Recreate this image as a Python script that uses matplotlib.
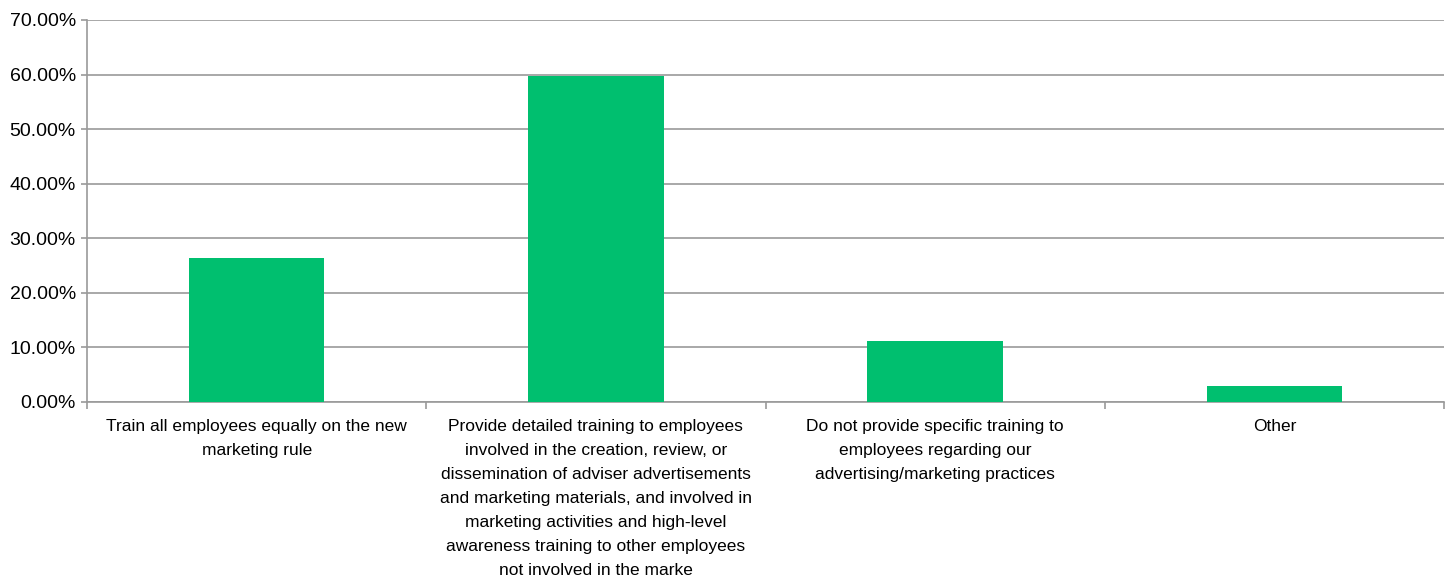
import matplotlib.pyplot as plt
from matplotlib.ticker import FuncFormatter

plt.rcParams['font.family'] = ['Liberation Sans', 'DejaVu Sans']

categories = [
    "Train all employees equally on the new\nmarketing rule",
    "Provide detailed training to employees\ninvolved in the creation, review, or\n"
    "dissemination of adviser advertisements\nand marketing materials, and involved in\n"
    "marketing activities and high-level\nawareness training to other employees\n"
    "not involved in the marke",
    "Do not provide specific training to\nemployees regarding our\nadvertising/marketing practices",
    "Other",
]
shares = [26.4, 59.7, 11.1, 2.9]
y_ticks = [0, 10, 20, 30, 40, 50, 60, 70]

W, H = 1448, 585
fig = plt.figure(figsize=(W / 100, H / 100), dpi=100)
ax = fig.add_axes([87 / W, 1 - 402 / H, (1444 - 87) / W, (402 - 20) / H])

grid_col = '#9a9a9a'
x = range(len(categories))
ax.bar(x, shares, width=0.4, color='#00bf6f', zorder=3)

ax.set_xlim(-0.5, len(categories) - 0.5)
ax.set_ylim(0, 70)
ax.set_yticks(y_ticks)
ax.yaxis.set_major_formatter(FuncFormatter(lambda v, p: f"{v:.2f}%"))
ax.yaxis.grid(True, color=grid_col, linewidth=1.2, zorder=0)

# category labels sit between boundary ticks
ax.set_xticks([i + 0.5 for i in range(-1, len(categories))])
ax.set_xticklabels([])
ax.set_xticks(list(x), minor=True)
ax.set_xticklabels(categories, minor=True, fontsize=12.5, linespacing=1.76,
                   va='top', ha='center')
ax.tick_params(axis='x', which='minor', length=0, pad=12)
ax.tick_params(axis='x', which='major', direction='out', length=5,
               color=grid_col, width=1.2)
ax.tick_params(axis='y', direction='out', length=4.5, color=grid_col, width=1.2,
               labelsize=14, pad=3.5)

for side in ['top', 'right']:
    ax.spines[side].set_visible(False)
for side in ['left', 'bottom']:
    ax.spines[side].set_color(grid_col)
    ax.spines[side].set_linewidth(1.2)

fig.savefig('out.png', dpi=100)
